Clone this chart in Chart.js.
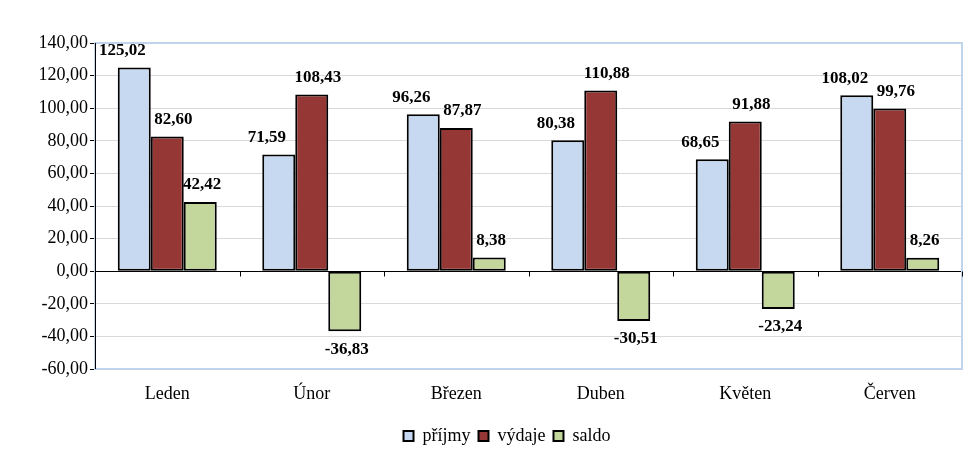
<!DOCTYPE html>
<html>
<head>
<meta charset="utf-8">
<script src="https://cdn.jsdelivr.net/npm/chart.js@4/dist/chart.umd.min.js"></script>
<style>
  html, body { margin: 0; padding: 0; background: #fff; }
  #wrap { width: 980px; height: 458px; position: relative; }
</style>
</head>
<body>
<div id="wrap"><canvas id="chart"></canvas></div>
<script>
// --- Data ---
const months = ['Leden', 'Únor', 'Březen', 'Duben', 'Květen', 'Červen'];
const prijmy = [125.02, 71.59, 96.26, 80.38, 68.65, 108.02];
const vydaje = [82.60, 108.43, 87.87, 110.88, 91.88, 99.76];
const saldo = [42.42, -36.83, 8.38, -30.51, -23.24, 8.26];

const seriesNames = ['příjmy', 'výdaje', 'saldo'];
const seriesColors = ['#C6D9F1', '#953735', '#C3D69B'];
// labels were nudged sideways in the original so they don't sit on the neighbour bar
const labelShift = [-12, 6, 2];

const serif = "'Liberation Serif', 'Times New Roman', serif";
const fmt = v => v.toFixed(2).replace('.', ',');

// plot frame, zero line ticks, left axis
const framePlugin = {
    id: 'frame',
    afterLayout(chart) {
        // legend in the original is centred a bit right of the canvas middle
        chart.legend.left += 26;
        chart.legend.right += 26;
    },
    beforeDatasetsDraw(chart) {
        const { ctx, chartArea: a, scales } = chart;
        ctx.save();
        ctx.strokeStyle = '#C0D4EC';
        ctx.lineWidth = 2;
        ctx.strokeRect(a.left, a.top, a.right - a.left, a.bottom - a.top);

        ctx.strokeStyle = '#000';
        ctx.lineWidth = 1;
        ctx.beginPath();
        ctx.moveTo(a.left + 0.5, a.top);
        ctx.lineTo(a.left + 0.5, a.bottom);
        // small ticks below the zero line at category boundaries
        const y0 = Math.round(scales.y.getPixelForValue(0)) + 0.5;
        const step = scales.x.width / months.length;
        for (let i = 0; i <= months.length; i++) {
            const x = Math.round(scales.x.left + i * step) + 0.5;
            ctx.moveTo(x, y0);
            ctx.lineTo(x, y0 + 5);
        }
        ctx.stroke();
        ctx.restore();
    }
};

// value labels above / below bars
const labelPlugin = {
    id: 'valueLabels',
    afterDatasetsDraw(chart) {
        const { ctx } = chart;
        ctx.save();
        ctx.font = 'bold 17px ' + serif;
        ctx.fillStyle = '#000';
        ctx.textAlign = 'center';
        ctx.textBaseline = 'middle';
        chart.data.datasets.forEach((ds, di) => {
            chart.getDatasetMeta(di).data.forEach((bar, i) => {
                const v = ds.data[i];
                const y = v >= 0 ? bar.y - 17 : bar.y + 18;
                ctx.fillText(fmt(v), bar.x + labelShift[di], y);
            });
        });
        ctx.restore();
    }
};

const ctx = document.getElementById('chart').getContext('2d');
new Chart(ctx, {
    type: 'bar',
    data: {
        labels: months,
        datasets: [prijmy, vydaje, saldo].map((d, i) => ({
            label: seriesNames[i],
            data: d,
            backgroundColor: seriesColors[i],
            borderColor: '#000',
            borderWidth: 2,
            borderSkipped: false,
            categoryPercentage: 0.685,
            barPercentage: 1
        }))
    },
    options: {
        responsive: true,
        maintainAspectRatio: false,
        animation: false,
        layout: { padding: { top: 43, right: 18, left: 0, bottom: 3 } },
        scales: {
            x: {
                grid: { display: false, drawTicks: false },
                border: { display: false },
                ticks: { color: '#000', padding: 14, font: { family: serif, size: 18 } },
                afterFit: s => { s.height = 50; }
            },
            y: {
                min: -60,
                max: 140,
                ticks: {
                    stepSize: 20,
                    color: '#000',
                    padding: 2,
                    font: { family: serif, size: 18 },
                    callback: v => fmt(v)
                },
                grid: {
                    color: c => (c.tick && c.tick.value === 0 ? '#000' : '#D9D9D9'),
                    tickColor: '#000',
                    tickLength: 5
                },
                border: { color: '#000' },
                afterFit: s => { s.width = 95; }
            }
        },
        plugins: {
            legend: {
                position: 'bottom',
                labels: {
                    color: '#000',
                    boxWidth: 10,
                    boxHeight: 10,
                    padding: 8,
                    font: { family: serif, size: 18 }
                }
            },
            tooltip: { enabled: false }
        }
    },
    plugins: [framePlugin, labelPlugin]
});
</script>
</body>
</html>
